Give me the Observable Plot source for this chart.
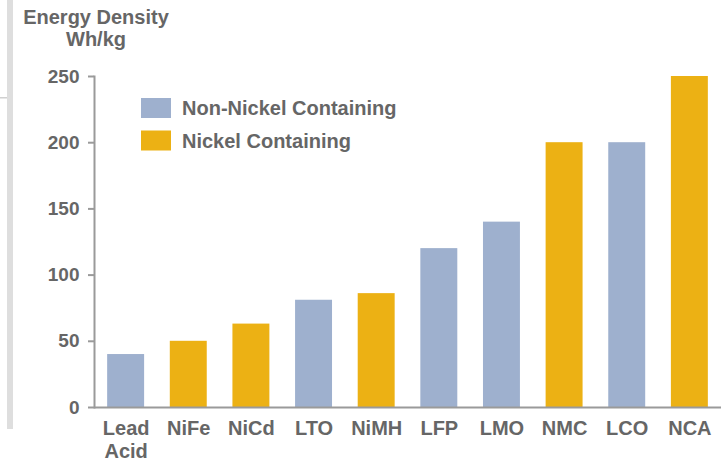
<!DOCTYPE html>
<html>
<head>
<meta charset="utf-8">
<script src="https://cdn.jsdelivr.net/npm/d3@7"></script>
<script src="https://cdn.jsdelivr.net/npm/@observablehq/plot@0.6"></script>
<style>
  html, body { margin: 0; padding: 0; background: #fff; }
  svg { display: block; }
</style>
</head>
<body>
<div id="chart"></div>
<script>
// Battery chemistries and their specific energy (Wh/kg)
const chemistries = ["Lead Acid", "NiFe", "NiCd", "LTO", "NiMH", "LFP", "LMO", "NMC", "LCO", "NCA"];
const energyDensity = [40, 50, 63, 81, 86, 120, 140, 200, 200, 250];
const groups = ["Non-Nickel Containing", "Nickel Containing", "Nickel Containing", "Non-Nickel Containing", "Nickel Containing",
                "Non-Nickel Containing", "Non-Nickel Containing", "Nickel Containing", "Non-Nickel Containing", "Nickel Containing"];
const groupNames = ["Non-Nickel Containing", "Nickel Containing"];
const groupColors = ["#9eb0ce", "#ecb114"];
const yTicks = [0, 50, 100, 150, 200, 250];
const titleLines = ["Energy Density", "Wh/kg"];

const rows = chemistries.map((name, i) => ({name, value: energyDensity[i], group: groups[i]}));

const FONT = "'Liberation Sans', Arial, sans-serif";
const TEXT = "#666";
const AXIS = "#9a9a9a";

const chart = Plot.plot({
  width: 724,
  height: 463,
  marginLeft: 94,
  marginRight: 3,
  marginTop: 76,
  marginBottom: 56,
  style: {fontFamily: FONT, fontWeight: "bold", fontSize: "20px", background: "#fff"},
  x: {domain: chemistries, paddingInner: 0.41, paddingOuter: 0.21, round: false},
  y: {domain: [0, 250]},
  color: {domain: groupNames, range: groupColors},
  marks: [
    Plot.barY(rows, {x: "name", y: "value", fill: "group"}),
    Plot.frame({anchor: "left", stroke: AXIS, strokeWidth: 2}),
    Plot.ruleY([0], {stroke: AXIS, strokeWidth: 2}),
    Plot.axisY({ticks: yTicks, tickSize: 6, tickPadding: 9, stroke: AXIS, strokeWidth: 2, fill: TEXT,
                fontSize: 19, fontWeight: "bold", label: null}),
    Plot.axisX({tickSize: 0, tickPadding: 11, fill: TEXT, fontSize: 20, fontWeight: "bold", lineHeight: 1.15,
                tickFormat: d => d.replace(" ", "\n"), label: null})
  ]
});

const svg = d3.select(chart);

// Decorative slide rail on the left
svg.insert("rect", ":first-child").attr("x", 7).attr("y", 0).attr("width", 6).attr("height", 429).attr("fill", "#dedede");
svg.insert("rect", ":first-child").attr("x", 0).attr("y", 97).attr("width", 7).attr("height", 1.5).attr("fill", "#d0d0d0");

// Axis title
svg.append("text")
  .attr("text-anchor", "middle")
  .attr("font-family", FONT).attr("font-weight", "bold").attr("font-size", 20).attr("fill", TEXT)
  .selectAll("tspan").data(titleLines).join("tspan")
  .attr("x", 96).attr("y", (d, i) => 24 + i * 22).text(d => d);

// Legend
const color = chart.scale("color");
const legend = svg.append("g")
  .attr("font-family", FONT).attr("font-weight", "bold").attr("font-size", 20).attr("text-anchor", "start");
const item = legend.selectAll("g").data(color.domain).join("g")
  .attr("transform", (d, i) => `translate(141,${98 + i * 32.5})`);
item.append("rect").attr("width", 30).attr("height", 20).attr("fill", d => color.apply(d));
item.append("text").attr("x", 41).attr("y", 10).attr("dy", "0.35em").attr("fill", TEXT).text(d => d);

document.getElementById("chart").appendChild(chart);
</script>
</body>
</html>
